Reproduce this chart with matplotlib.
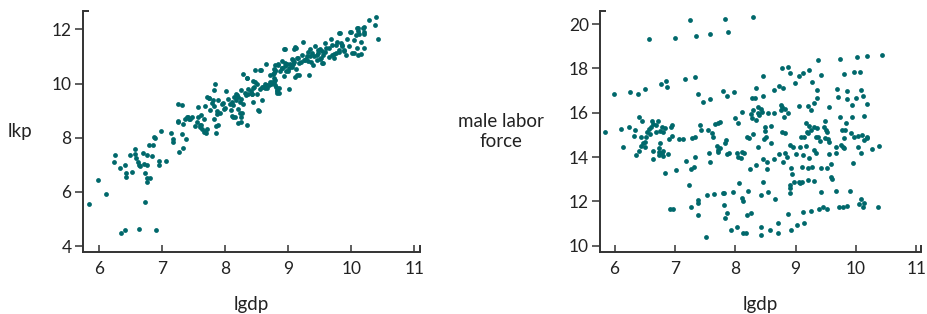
"""Two scatter panels: lkp vs lgdp and male labor force vs lgdp."""

import matplotlib
matplotlib.use("Agg")
import matplotlib.pyplot as plt

# left panel: (lgdp, lkp)
lkp_pts = [
    (5.84, 5.56), (5.98, 6.44), (6.11, 5.92), (6.35, 4.49), (6.41, 4.59), (6.64, 4.64),
    (6.91, 4.58), (6.73, 5.61),
    (6.24, 7.11), (6.25, 7.35), (6.33, 6.90), (6.41, 7.00), (6.43, 6.71), (6.43, 6.56),
    (6.49, 7.37), (6.53, 6.73), (6.58, 7.57), (6.57, 7.40), (6.59, 7.25), (6.63, 6.98),
    (6.62, 7.11), (6.66, 6.96), (6.70, 7.44), (6.72, 7.04), (6.73, 6.69), (6.77, 7.00),
    (6.77, 7.36), (6.76, 6.36), (6.77, 6.50), (6.81, 6.53), (6.80, 7.75), (6.86, 7.75),
    (6.84, 7.33), (6.87, 8.01), (6.89, 7.98), (6.95, 7.14), (6.95, 7.00), (6.99, 8.26),
    (7.06, 7.14), (7.14, 8.19), (7.17, 7.94), (7.17, 7.85), (7.25, 9.25), (7.32, 9.20),
    (7.25, 8.62), (7.27, 7.48), (7.33, 7.63), (7.32, 8.12), (7.34, 8.52), (7.38, 7.94),
    (7.36, 8.68), (7.41, 8.75), (7.43, 8.68), (7.47, 8.78), (7.53, 8.44), (7.58, 8.77),
    (7.58, 9.12), (7.62, 8.84), (7.60, 8.40), (7.62, 8.48), (7.63, 8.32), (7.66, 8.71),
    (7.69, 8.26), (7.70, 8.17), (7.71, 8.33), (7.69, 9.17), (7.71, 9.50), (7.75, 9.46),
    (7.76, 9.02), (7.81, 9.39), (7.82, 9.17), (7.84, 9.98), (7.83, 9.78), (7.82, 8.69),
    (7.85, 8.18), (7.85, 8.43), (7.89, 8.47), (7.87, 8.86), (7.87, 8.97), (7.89, 9.41),
    (7.92, 8.92), (7.95, 9.23), (7.98, 9.07), (8.02, 9.73), (8.05, 9.42), (8.08, 9.26),
    (8.10, 9.02), (8.11, 8.81), (8.13, 9.20), (8.13, 8.75), (8.14, 9.51), (8.17, 9.41),
    (8.17, 9.62), (8.19, 9.58), (8.20, 9.07), (8.20, 8.54), (8.23, 8.90), (8.26, 9.78),
    (8.26, 8.76), (8.28, 9.23), (8.26, 9.42), (8.29, 10.36), (8.31, 9.67), (8.33, 9.56),
    (8.35, 10.22), (8.35, 8.48), (8.36, 9.80), (8.37, 9.63), (8.41, 9.71), (8.43, 9.61),
    (8.46, 9.87), (8.44, 10.09), (8.48, 10.49), (8.48, 10.06), (8.50, 9.62), (8.51, 9.99),
    (8.54, 8.98), (8.56, 9.81), (8.57, 10.49), (8.59, 9.38), (8.58, 9.88), (8.64, 9.98),
    (8.66, 9.83), (8.65, 10.74), (8.70, 9.93), (8.73, 9.98), (8.75, 10.06), (8.77, 10.05),
    (8.78, 10.40), (8.79, 10.49), (8.80, 10.68), (8.81, 9.87), (8.82, 9.67), (8.83, 9.76),
    (8.84, 10.72), (8.86, 9.82), (8.87, 10.46), (8.91, 10.57), (8.91, 10.83), (8.93, 10.29),
    (8.94, 11.27), (8.95, 10.66), (8.97, 10.45), (8.98, 10.73), (9.01, 10.58), (9.02, 9.81),
    (9.03, 10.71), (9.06, 10.90), (9.07, 10.71), (9.10, 10.79), (9.11, 10.24), (9.11, 11.34),
    (9.13, 10.54), (9.14, 10.31), (9.16, 10.96), (9.18, 10.30), (9.21, 10.79), (9.22, 11.07),
    (9.23, 11.53), (9.25, 10.88), (9.29, 10.91), (9.30, 11.01), (9.32, 10.85), (9.33, 10.32),
    (9.34, 11.29), (9.36, 10.80), (9.38, 11.13), (9.40, 10.70), (9.41, 11.01), (9.43, 11.38),
    (9.45, 10.86), (9.47, 11.12), (9.50, 11.29), (9.51, 10.91), (9.53, 10.76), (9.54, 11.19),
    (9.56, 11.05), (9.58, 11.49), (9.60, 11.31), (9.65, 10.99), (9.68, 11.65), (9.70, 11.44),
    (9.73, 11.11), (9.76, 11.42), (9.78, 11.53), (9.80, 11.16), (9.82, 11.87), (9.84, 11.51),
    (9.86, 11.37), (9.88, 11.19), (9.93, 11.65), (9.96, 11.37), (9.98, 11.91), (10.01, 11.13),
    (10.05, 11.61), (10.07, 11.81), (10.10, 12.07), (10.11, 11.06), (10.13, 11.83),
    (10.15, 11.08), (10.16, 11.53), (10.19, 12.07), (10.20, 11.83), (10.21, 11.31),
    (10.28, 12.35), (10.37, 12.18), (10.40, 12.45), (10.43, 11.65),
    # extra points in the dense band
    (9.80, 11.86), (9.99, 11.90), (10.09, 12.04), (10.11, 11.94), (10.20, 12.08), (10.20, 11.90),
    (9.13, 11.33), (9.10, 11.26), (8.95, 11.26), (8.77, 10.53), (8.80, 10.45), (8.76, 10.35),
    (8.77, 10.21), (8.74, 10.01), (8.79, 9.95), (8.66, 9.93), (8.60, 9.89), (8.64, 9.83),
    (8.71, 10.05), (8.82, 9.71), (8.85, 9.65), (8.84, 10.69), (8.90, 10.59), (8.95, 10.75),
    (9.00, 10.45), (9.06, 10.63), (9.08, 10.87), (9.14, 10.94), (9.18, 10.75), (9.27, 10.87),
    (9.32, 11.18), (9.35, 11.00), (9.45, 11.06), (9.48, 11.24), (9.52, 10.94), (9.56, 10.75),
    (9.59, 11.18), (9.64, 11.31), (9.69, 11.06), (9.72, 10.94), (9.76, 11.12), (9.80, 11.24),
    (9.85, 11.43), (9.88, 11.24), (9.92, 11.06), (10.04, 11.12), (10.09, 11.31),
    (7.26, 8.59), (7.39, 8.77), (7.45, 8.71), (7.55, 8.59), (7.61, 8.46), (7.66, 8.22),
    (7.74, 9.45), (7.79, 9.27), (7.97, 9.27), (8.00, 9.08), (8.11, 9.32), (8.16, 8.77),
    (8.21, 9.51), (8.24, 9.32), (8.27, 8.90), (8.25, 8.59), (8.42, 9.63), (8.45, 9.82),
    (8.35, 10.19), (8.56, 10.49), (8.71, 10.31), (8.79, 10.13), (8.45, 9.32), (8.53, 9.02),
]

# right panel: (lgdp, male labor force)
mlf_pts = [
    (6.57, 19.31), (7.00, 19.38), (7.25, 20.17), (7.35, 19.47), (7.58, 19.55), (7.83, 20.24),
    (7.88, 19.62), (8.29, 20.30),
    (5.99, 16.84), (6.26, 16.95), (6.39, 16.86), (6.51, 17.05), (6.77, 17.31), (6.86, 17.43),
    (6.87, 17.14), (7.16, 17.53), (7.33, 17.62), (7.39, 16.83), (7.46, 16.50), (7.58, 16.63),
    (7.79, 16.99), (7.86, 16.77), (7.98, 16.93), (8.34, 17.13), (8.28, 16.68), (8.32, 16.66),
    (8.46, 17.67), (8.46, 16.74), (8.64, 17.04), (8.72, 17.20), (8.79, 17.10), (8.77, 18.00),
    (8.87, 18.08), (8.90, 17.80), (8.99, 17.35), (9.05, 17.65), (9.12, 17.77), (9.23, 17.94),
    (9.27, 17.38), (9.37, 18.36), (9.42, 17.70), (9.36, 17.02), (9.35, 16.66), (9.31, 16.42),
    (9.20, 16.32), (9.05, 16.32), (9.25, 16.14), (9.55, 16.24), (9.68, 17.05), (9.70, 16.71),
    (9.73, 18.42), (9.81, 17.76), (9.85, 16.99), (9.85, 16.63), (9.93, 16.33), (9.96, 17.83),
    (10.01, 18.50), (10.00, 16.68), (10.06, 17.85), (10.09, 17.02), (10.11, 16.77),
    (10.14, 15.85), (10.18, 16.41), (10.19, 18.54), (10.43, 18.60),
    (5.85, 15.13), (6.11, 15.28), (6.14, 14.44), (6.24, 15.37), (6.32, 14.95), (6.34, 15.20),
    (6.36, 14.08), (6.40, 14.29), (6.41, 15.79), (6.44, 14.92), (6.44, 14.50), (6.47, 14.62),
    (6.46, 15.62), (6.50, 14.66), (6.51, 14.44), (6.52, 14.91), (6.54, 15.14), (6.57, 15.26),
    (6.59, 15.04), (6.61, 15.34), (6.62, 15.62), (6.63, 15.49), (6.64, 14.27), (6.64, 13.89),
    (6.68, 15.11), (6.69, 15.43), (6.72, 15.64), (6.73, 14.42), (6.73, 14.23), (6.74, 14.11),
    (6.75, 15.17), (6.76, 14.62), (6.78, 15.37), (6.78, 14.20), (6.80, 14.05), (6.80, 14.25),
    (6.81, 15.13), (6.84, 15.29), (6.84, 13.28), (6.89, 14.14), (6.91, 14.80), (6.93, 15.37),
    (6.95, 15.44), (6.96, 14.95), (6.92, 11.65), (6.97, 11.65), (7.02, 13.43), (7.06, 14.83),
    (7.14, 14.81), (7.18, 13.80), (7.24, 12.74), (7.27, 13.44), (7.27, 11.74), (7.29, 14.87),
    (7.33, 14.92), (7.32, 13.56), (7.33, 13.98), (7.38, 12.06), (7.39, 11.91), (7.39, 11.37),
    (7.42, 15.46), (7.43, 15.22), (7.51, 10.39), (7.54, 12.29), (7.55, 15.23), (7.56, 14.17),
    (7.59, 13.79), (7.61, 15.10), (7.63, 14.92), (7.64, 12.33), (7.67, 15.49), (7.70, 14.51),
    (7.71, 14.32), (7.71, 15.55), (7.74, 15.59), (7.72, 14.21), (7.75, 14.42), (7.79, 12.36),
    (7.81, 12.39), (7.82, 11.83), (7.83, 11.23), (7.87, 11.46), (7.83, 14.62), (7.85, 14.77),
    (7.86, 14.12), (7.89, 14.18), (7.93, 10.69), (7.97, 12.41), (8.00, 15.74), (8.03, 14.17),
    (8.04, 13.98), (8.05, 15.55), (8.03, 10.83), (8.07, 12.84), (8.10, 13.94), (8.11, 16.05),
    (8.12, 12.14), (8.13, 12.02), (8.12, 14.24), (8.15, 14.17), (8.13, 10.56), (8.18, 10.56),
    (8.19, 14.89), (8.21, 12.48), (8.20, 11.38), (8.23, 14.87), (8.24, 13.44), (8.26, 11.46),
    (8.26, 15.92), (8.29, 16.12), (8.28, 15.74), (8.30, 15.02), (8.34, 15.67), (8.35, 13.65),
    (8.37, 14.47), (8.37, 15.99), (8.38, 16.27), (8.39, 15.89), (8.42, 16.15), (8.42, 12.29),
    (8.43, 10.86), (8.43, 10.48), (8.44, 16.05), (8.46, 13.89), (8.46, 12.86), (8.47, 14.80),
    (8.49, 15.35), (8.50, 15.19), (8.51, 14.92), (8.53, 13.79), (8.53, 13.44), (8.54, 15.97),
    (8.55, 12.42), (8.58, 10.71), (8.60, 15.40), (8.59, 14.62), (8.64, 15.99), (8.65, 13.89),
    (8.66, 12.11), (8.71, 11.04), (8.71, 10.56), (8.73, 14.14), (8.75, 16.35), (8.76, 16.12),
    (8.78, 16.24), (8.78, 15.14), (8.79, 13.79), (8.81, 15.82), (8.82, 16.18), (8.83, 15.10),
    (8.83, 14.17), (8.85, 14.02), (8.87, 15.99), (8.88, 11.43), (8.90, 12.36), (8.91, 12.59),
    (8.91, 12.74), (8.91, 14.54), (8.92, 13.49), (8.93, 10.71), (8.94, 13.23), (8.95, 14.47),
    (8.98, 12.89), (9.00, 14.12), (9.03, 10.92), (9.05, 12.89), (9.07, 12.84), (9.08, 14.47),
    (9.09, 14.92), (9.10, 12.89), (9.11, 13.56), (9.12, 14.09), (9.13, 11.50), (9.14, 11.02),
    (9.14, 14.92), (9.17, 14.51), (9.18, 15.55), (9.19, 15.14), (9.20, 13.49), (9.20, 12.96),
    (9.21, 15.07), (9.22, 15.40), (9.22, 13.94), (9.25, 11.58), (9.26, 15.22), (9.28, 13.56),
    (9.30, 12.90), (9.31, 15.37), (9.31, 14.32), (9.33, 14.20), (9.33, 14.92), (9.35, 15.29),
    (9.37, 14.92), (9.38, 11.65), (9.41, 14.74), (9.42, 12.44), (9.42, 13.52), (9.46, 11.73),
    (9.47, 15.37), (9.48, 15.62), (9.48, 14.84), (9.50, 15.22), (9.52, 11.65), (9.52, 13.49),
    (9.52, 15.14), (9.53, 14.81), (9.55, 14.12), (9.55, 14.66), (9.58, 13.67), (9.59, 13.08),
    (9.61, 13.01), (9.67, 14.17), (9.67, 12.48), (9.67, 14.44), (9.72, 11.73), (9.73, 15.79),
    (9.75, 14.54), (9.77, 15.22), (9.78, 14.47), (9.78, 11.73), (9.80, 14.84), (9.81, 14.39),
    (9.82, 15.22), (9.83, 15.52), (9.86, 11.80), (9.90, 12.48), (9.92, 15.10), (9.94, 15.82),
    (9.95, 13.74), (9.97, 14.92), (10.03, 14.95), (10.04, 14.47), (10.05, 11.88),
    (10.08, 12.11), (10.08, 14.20), (10.10, 14.99), (10.11, 11.73), (10.14, 11.91),
    (10.13, 14.77), (10.19, 14.92), (10.19, 14.84), (10.27, 14.35), (10.37, 11.73),
    (10.39, 14.51),
]

x_ticks = [6, 7, 8, 9, 10, 11]
lkp_ticks = [4, 6, 8, 10, 12]
mlf_ticks = [10, 12, 14, 16, 18, 20]

DOT = "#00686b"
INK = "#333333"
TXT = "#222222"

plt.rcParams["font.family"] = ["Lato", "DejaVu Sans"]

fig = plt.figure(figsize=(9.28, 3.14), dpi=100)
ax1 = fig.add_axes([0.0891, 0.1965, 0.3635, 0.7685])
ax2 = fig.add_axes([0.6466, 0.1965, 0.3460, 0.7685])


def style(ax, yticks, xlim, ylim, ylabel, ylab_x):
    for s in ["top", "right"]:
        ax.spines[s].set_visible(False)
    for s in ["left", "bottom"]:
        ax.spines[s].set_color(INK)
        ax.spines[s].set_linewidth(1.4)
    ax.set_xlim(*xlim)
    ax.set_ylim(*ylim)
    ax.set_xticks(x_ticks)
    ax.set_yticks(yticks)
    ax.tick_params(axis="x", direction="in", length=5, width=1.1, color=INK,
                   pad=6, labelsize=12.5, labelcolor=TXT)
    ax.tick_params(axis="y", direction="out", length=6, width=1.1, color=INK,
                   pad=2, labelsize=12.5, labelcolor=TXT)
    ax.set_xlabel("lgdp", fontsize=13.5, color=TXT, va="center")
    ax.xaxis.set_label_coords(0.5, -0.215)
    ax.set_ylabel(ylabel, fontsize=13.5, color=TXT, rotation=0,
                  ha="center", va="center", multialignment="center")
    ax.yaxis.set_label_coords(ylab_x, 0.5)
    # small end caps on the axis lines
    ax.plot([0, 0.02], [1, 1], transform=ax.transAxes, color=INK, lw=1.4,
            clip_on=False, solid_capstyle="butt")
    ax.plot([1, 1], [0, 0.03], transform=ax.transAxes, color=INK, lw=1.4,
            clip_on=False, solid_capstyle="butt")


ax1.scatter([p[0] for p in lkp_pts], [p[1] for p in lkp_pts], s=12, color=DOT,
            linewidths=0, zorder=3)
style(ax1, lkp_ticks, (5.745, 11.09), (3.77, 12.68), "lkp", -0.186)

ax2.scatter([p[0] for p in mlf_pts], [p[1] for p in mlf_pts], s=12, color=DOT,
            linewidths=0, zorder=3)
style(ax2, mlf_ticks, (5.76, 11.08), (9.70, 20.59), "male labor\nforce", -0.31)

fig.savefig("out.png", dpi=100)
